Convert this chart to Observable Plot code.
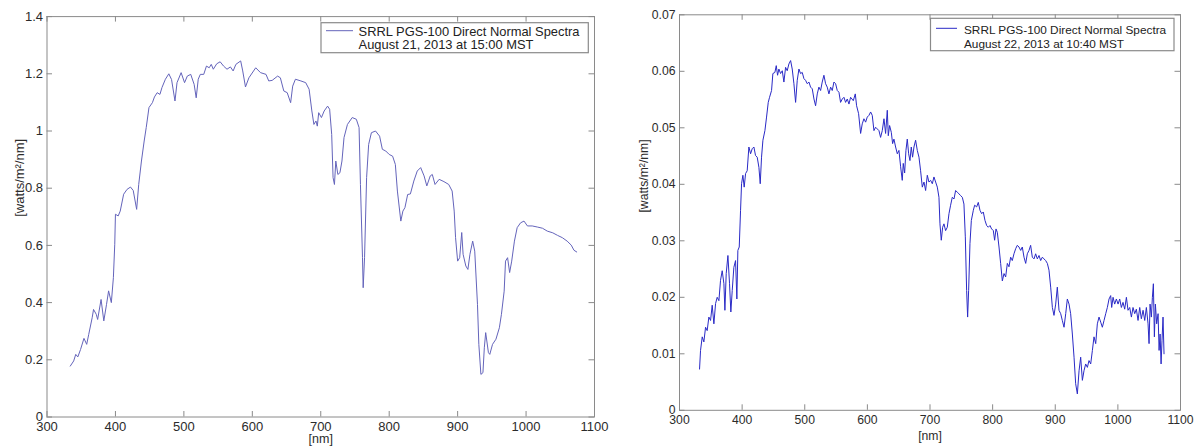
<!DOCTYPE html>
<html>
<head>
<meta charset="utf-8">
<script src="https://cdn.jsdelivr.net/npm/d3@7"></script>
<script src="https://cdn.jsdelivr.net/npm/@observablehq/plot@0.6"></script>
<style>
  html, body { margin: 0; padding: 0; background: #fff; }
  #wrap { position: relative; width: 1198px; height: 446px; overflow: hidden; }
  .panel { position: absolute; top: 0; height: 446px; }
  .panel svg { overflow: visible; }
</style>
</head>
<body>
<div id="wrap">
  <div class="panel" id="left" style="left:0;width:600px"></div>
  <div class="panel" id="right" style="left:600px;width:598px"></div>
</div>
<script>
// ---------- data ----------
const xTicks = [300, 400, 500, 600, 700, 800, 900, 1000, 1100];
const leftYTicks = [0, 0.2, 0.4, 0.6, 0.8, 1, 1.2, 1.4];
const rightYTicks = [0, 0.01, 0.02, 0.03, 0.04, 0.05, 0.06, 0.07];
const xLabel = "[nm]";
const yLabel = "[watts/m\u00B2/nm]";
const leftLegend = ["SRRL PGS-100 Direct Normal Spectra", "August 21, 2013 at 15:00 MST"];
const rightLegend = ["SRRL PGS-100 Direct Normal Spectra", "August 22, 2013 at 10:40 MST"];

// August 21, 2013 15:00 MST
const leftNm = [334,339,342,345,349,354,358,361,366,368,372,374,379,383,387,390,394,397,399,400,
404,407,412,417,422,426,431,434,438,442,445,449,454,457,461,465,468,473,478,482,
487,490,496,501,505,510,515,518,521,524,529,533,537,540,543,548,553,558,563,568,
572,576,583,586,590,595,605,612,620,624,629,637,641,646,651,656,659,663,671,678,
683,687,690,693,695,697,701,705,710,713,716,718,720,722,725,728,731,734,739,746,
752,756,758,761,762,764,767,770,774,780,786,790,795,800,805,809,812,817,820,823,
827,831,836,841,846,851,855,860,863,867,873,880,887,892,895,897,900,903,906,908,
912,915,918,922,925,929,931,934,937,939,941,945,947,951,956,961,964,968,970,973,
976,979,983,987,992,997,1002,1009,1017,1024,1031,1039,1046,1053,1060,1066,1070,1074];
const leftVal = [0.178,0.196,0.219,0.210,0.236,0.275,0.254,0.289,0.347,0.376,0.359,0.341,0.411,0.336,0.394,0.441,0.400,0.487,0.604,0.709,
0.703,0.720,0.779,0.796,0.804,0.792,0.726,0.813,0.895,0.965,1.012,1.082,1.099,1.119,1.134,1.128,1.152,1.181,1.200,1.180,
1.105,1.169,1.204,1.169,1.192,1.198,1.163,1.116,1.181,1.198,1.198,1.227,1.221,1.233,1.216,1.235,1.242,1.227,1.216,1.224,
1.210,1.233,1.245,1.210,1.154,1.186,1.221,1.204,1.198,1.175,1.177,1.192,1.186,1.140,1.134,1.099,1.157,1.181,1.175,1.169,
1.146,1.070,1.023,1.035,1.017,1.064,1.047,1.070,1.087,1.076,0.988,0.837,0.813,0.895,0.848,0.854,0.895,0.977,1.023,1.047,
1.041,1.012,0.813,0.557,0.452,0.557,0.837,0.953,0.994,1.000,0.982,0.936,0.930,0.918,0.912,0.883,0.790,0.685,0.720,0.732,
0.778,0.780,0.825,0.860,0.872,0.843,0.808,0.843,0.848,0.813,0.831,0.823,0.813,0.790,0.720,0.627,0.545,0.557,0.645,0.569,
0.528,0.516,0.569,0.615,0.580,0.394,0.254,0.149,0.155,0.242,0.295,0.225,0.219,0.254,0.272,0.312,0.359,0.440,0.545,0.557,
0.505,0.545,0.615,0.662,0.679,0.685,0.668,0.668,0.664,0.660,0.650,0.644,0.635,0.627,0.615,0.601,0.583,0.577];

// August 22, 2013 10:40 MST
const rightNm = [332,333.6,336.3,338.9,341.6,344.2,346.9,349.6,352.2,354.9,357.6,360.2,362.9,365.5,368.2,370.9,372.5,374.6,377.3,379.9,
382,384.2,386.8,389.5,391.6,393.2,395.4,397.5,399.1,401.2,403.3,405.5,408.1,410.8,413.5,416.1,418.8,421.4,424.1,426.8,
428.9,431,433.2,436.4,439,441.7,443.8,447,449.1,452.3,454.5,456.6,458.7,461.4,464.1,466.7,469.4,472,474.7,477.4,
480,482.7,485.4,488,490.7,493.3,496,498.7,501.3,504,506.7,509.3,512,514.7,517.3,520,522.6,525.3,527.9,530.6,
533.3,535.9,538.6,541.3,543.9,546.6,549.3,551.9,554.6,557.2,559.9,562.6,565.2,567.9,570.6,
573.2,577.5,580.7,582.8,586,589.2,591.8,594.5,597.2,599.8,602.5,605.2,607.8,610.5,613.1,615.8,618.5,621.1,623.8,626.5,
629.1,631.8,633.4,635.5,638.2,640.3,642.4,645.1,647.8,650.4,653.1,655.7,657.3,659.5,661.6,663.7,665.9,668,670.1,672.2,
674.4,677,679.7,682.4,685,687.7,690.4,693,695.7,698.3,701,703.7,706.3,709,711.7,714.3,715.9,718,720.2,722.3,
724.9,727.6,730.3,732.9,735.6,738.3,740.9,743.6,746.3,748.9,751.6,754.2,756.4,758.5,760.1,761.7,763.8,766,769.2,771.3,
774.5,777.1,779.8,782.5,785.1,787.8,790.5,793.1,795.8,798.4,801.1,803.2,805.4,807.5,810.2,812.8,815.5,818.2,
820.8,823.5,826.1,828.8,831.4,834.1,836.8,839.4,842.1,844.8,847.4,850.1,852.8,855.4,858.1,860.7,863.4,866.1,868.7,871.4,
874.1,876.7,879.4,882,884.7,887.4,890,892.7,895.4,898,900.7,903.3,906,908.7,911.3,914,916.7,919.3,922,924.6,
927.3,930,932.6,935.3,938,940.6,943.3,945.9,948.6,951.3,953.9,956.6,959.3,961.9,964.6,967.2,969.9,972.6,975.2,977.9,
980.6,983.2,985.9,988.5,990.1,992.3,994.9,997.6,1000.3,1002.9,1005.6,1008.2,1010.9,1013.6,1016.2,1018.9,1021.6,1024.2,1026.9,1029.5,
1032.2,1034.9,1037.5,1040.2,1042.9,1045.5,1048.2,1049.8,1051.4,1053.5,1055.1,1056.7,1058.3,1059.9,1062,1064.2,1065.8,1067.4,1069,1070.5,
1072.1,1073.7];
const rightVal = [0.0073,0.0106,0.0130,0.0121,0.0147,0.0141,0.0165,0.0159,0.0186,0.0153,0.0189,0.0200,0.0194,0.0230,0.0247,0.0224,0.0177,0.0242,0.0274,0.0224,
0.0174,0.0212,0.0253,0.0265,0.0197,0.0283,0.0289,0.0354,0.0401,0.0416,0.0395,0.0419,0.0424,0.0466,0.0454,0.0463,0.0466,0.0451,0.0448,0.0430,
0.0401,0.0448,0.0478,0.0495,0.0519,0.0545,0.0554,0.0566,0.0596,0.0598,0.0610,0.0593,0.0604,0.0596,0.0601,0.0581,0.0607,0.0601,0.0613,0.0619,
0.0604,0.0578,0.0545,0.0584,0.0604,0.0596,0.0598,0.0587,0.0584,0.0578,0.0581,0.0572,0.0569,0.0551,0.0539,0.0560,0.0572,0.0566,0.0581,0.0593,
0.0578,0.0572,0.0560,0.0572,0.0566,0.0581,0.0578,0.0566,0.0563,0.0545,0.0551,0.0554,0.0545,0.0551,0.0542,
0.0554,0.0548,0.0560,0.0539,0.0525,0.0490,0.0507,0.0516,0.0510,0.0519,0.0522,0.0528,0.0522,0.0495,0.0501,0.0498,0.0495,0.0483,0.0495,0.0516,
0.0490,0.0531,0.0486,0.0504,0.0492,0.0472,0.0480,0.0466,0.0454,0.0460,0.0431,0.0407,0.0437,0.0420,0.0460,0.0480,0.0454,0.0442,0.0466,0.0448,
0.0466,0.0478,0.0460,0.0448,0.0424,0.0395,0.0404,0.0389,0.0416,0.0404,0.0407,0.0401,0.0413,0.0404,0.0395,0.0377,0.0330,0.0301,0.0324,0.0330,
0.0318,0.0324,0.0348,0.0363,0.0377,0.0374,0.0389,0.0386,0.0383,0.0380,0.0377,0.0365,0.0307,0.0212,0.0165,0.0212,0.0295,0.0336,0.0354,0.0363,
0.0360,0.0368,0.0354,0.0348,0.0351,0.0336,0.0327,0.0324,0.0327,0.0321,0.0318,0.0301,0.0321,0.0315,0.0289,0.0260,0.0229,0.0242,
0.0236,0.0260,0.0254,0.0271,0.0265,0.0277,0.0286,0.0292,0.0289,0.0283,0.0289,0.0271,0.0260,0.0277,0.0283,0.0292,0.0271,0.0268,0.0277,0.0268,
0.0274,0.0265,0.0271,0.0268,0.0265,0.0260,0.0248,0.0218,0.0182,0.0168,0.0188,0.0218,0.0177,0.0171,0.0159,0.0147,0.0171,0.0197,0.0188,0.0171,
0.0135,0.0094,0.0047,0.0029,0.0070,0.0094,0.0053,0.0070,0.0082,0.0076,0.0088,0.0082,0.0106,0.0130,0.0118,0.0153,0.0165,0.0156,0.0147,0.0159,
0.0171,0.0182,0.0197,0.0203,0.0182,0.0200,0.0188,0.0197,0.0188,0.0197,0.0182,0.0191,0.0179,0.0200,0.0177,0.0182,0.0165,0.0182,0.0171,0.0179,
0.0159,0.0182,0.0162,0.0177,0.0159,0.0182,0.0153,0.0118,0.0188,0.0165,0.0200,0.0224,0.0130,0.0188,0.0153,0.0171,0.0106,0.0135,0.0082,0.0124,
0.0165,0.0100];

// ---------- chart builder ----------
function makeChart(opts) {
  const {nm, val, yTicks, yMax, width, height, mL, mR, mT, mB, color, fontSize, yLabelDx, xLabelDy, xLabelFs, xPad, legend, leg} = opts;
  const data = nm.map((d, i) => ({nm: d, v: val[i]}));
  const plotW = width - mL - mR;
  const plotH = height - mT - mB;
  const tick = 5.5;
  const axisColor = "#8a8a8a";
  const fmt = d => String(+d.toFixed(3));
  const svg = Plot.plot({
    width, height,
    marginLeft: mL, marginRight: mR, marginTop: mT, marginBottom: mB,
    x: {domain: [300, 1100]},
    y: {domain: [0, yMax]},
    style: {fontFamily: "'Liberation Sans', Arial, sans-serif", fontSize: fontSize + "px", color: "#2b2b2b", background: "transparent", overflow: "visible"},
    marks: [
      Plot.frame({stroke: axisColor}),
      Plot.tickX(xTicks, {x: d => d, insetTop: plotH - tick, stroke: axisColor}),
      Plot.tickX(xTicks, {x: d => d, insetBottom: plotH - tick, stroke: axisColor}),
      Plot.tickY(yTicks, {y: d => d, insetRight: plotW - tick, stroke: axisColor}),
      Plot.tickY(yTicks, {y: d => d, insetLeft: plotW - tick, stroke: axisColor}),
      Plot.axisX(xTicks, {tickSize: 0, tickPadding: xPad, label: null, tickFormat: d => String(d)}),
      Plot.axisY(yTicks, {tickSize: 0, tickPadding: 4, label: null, tickFormat: fmt}),
      Plot.line(data, {x: "nm", y: "v", stroke: color, strokeWidth: 1}),
      Plot.text([xLabel], {text: d => d, frameAnchor: "bottom", lineAnchor: "bottom", dy: xLabelDy, fontSize: xLabelFs, fill: "#2b2b2b"}),
      Plot.text([yLabel], {text: d => d, frameAnchor: "left", rotate: -90, dx: yLabelDx, fill: "#2b2b2b"})
    ]
  });
  // legend box (inside the axes, top-right)
  const g = d3.select(svg).append("g")
    .attr("font-family", "'Liberation Sans', Arial, sans-serif")
    .attr("font-size", leg.fs)
    .attr("text-anchor", "start");
  g.append("rect").attr("x", leg.x0).attr("y", leg.y0)
    .attr("width", leg.x1 - leg.x0).attr("height", leg.y1 - leg.y0)
    .attr("fill", "#fff").attr("stroke", "#8a8a8a").attr("stroke-width", 1.2);
  g.append("line").attr("x1", leg.lx0).attr("x2", leg.lx1).attr("y1", leg.ly).attr("y2", leg.ly)
    .attr("stroke", color).attr("stroke-width", 1);
  legend.forEach((t, i) => {
    g.append("text").attr("x", leg.tx).attr("y", leg.ty + i * leg.lh)
      .attr("text-anchor", "start").attr("fill", "#222").text(t);
  });
  return svg;
}

document.getElementById("left").appendChild(makeChart({
  nm: leftNm, val: leftVal, yTicks: leftYTicks, yMax: 1.4,
  width: 600, height: 446, mL: 46.5, mR: 6, mT: 16.1, mB: 29.5,
  color: "#6464bb", fontSize: 13, yLabelDx: -27, xLabelDy: 25.5, xLabelFs: 12.5, xPad: 4.5,
  legend: leftLegend,
  leg: {x0: 321, x1: 588.3, y0: 22.7, y1: 52.7, lx0: 326, lx1: 353, ly: 30.7, tx: 358.6, ty: 35.5, lh: 13.8, fs: 12.9}
}));

document.getElementById("right").appendChild(makeChart({
  nm: rightNm, val: rightVal, yTicks: rightYTicks, yMax: 0.07,
  width: 598, height: 446, mL: 79, mR: 18, mT: 14.3, mB: 36.2,
  color: "#2a2ac6", fontSize: 12.2, yLabelDx: -35, xLabelDy: 30, xLabelFs: 12.2, xPad: 5,
  legend: rightLegend,
  leg: {x0: 330.5, x1: 574, y0: 18.3, y1: 50.7, lx0: 336, lx1: 357, ly: 28.3, tx: 364, ty: 33.6, lh: 14.3, fs: 11.8}
}));
</script>
</body>
</html>
